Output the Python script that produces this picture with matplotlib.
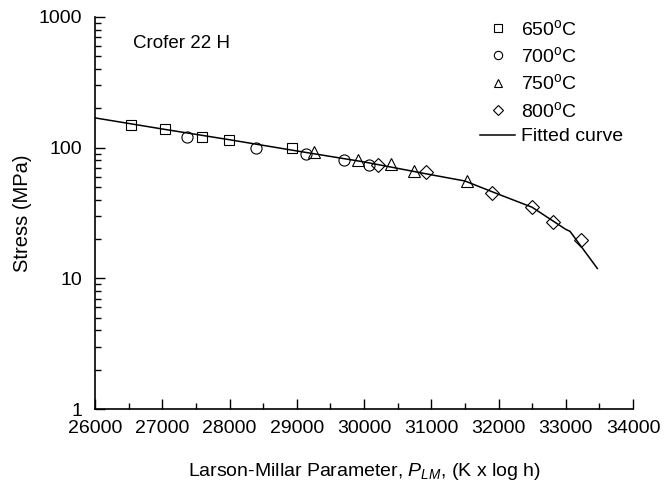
import matplotlib
matplotlib.use("Agg")
import matplotlib.pyplot as plt
from matplotlib.ticker import LogLocator, NullFormatter, FixedLocator, MultipleLocator

plt.rcParams['font.family'] = ['Liberation Sans', 'DejaVu Sans']
plt.rcParams['mathtext.fontset'] = 'custom'
plt.rcParams['mathtext.rm'] = 'Liberation Sans'
plt.rcParams['mathtext.it'] = 'Liberation Sans:italic'

# Data (Larson-Miller parameter, stress MPa)
p650 = [26531, 27036, 27591, 27988, 28925]
s650 = [150, 140, 120, 114, 100]
p700 = [27368, 28399, 29138, 29703, 30074]
s700 = [120, 100, 90, 80, 73.5]
p750 = [29252, 29911, 30406, 30748, 31527]
s750 = [92, 80.4, 74.9, 66, 56]
p800 = [30213, 30917, 31908, 32498, 32815, 33222]
s800 = [74, 65, 45, 35, 26.8, 19.8]
fit_p = [26000, 27000, 28000, 29000, 30000, 31000, 31500, 32000, 32500, 33000, 33063, 33470]
fit_s = [169, 139, 115, 94.4, 77.8, 62, 55.6, 44, 35, 23.7, 22.9, 11.9]

fig = plt.figure(figsize=(6.71, 4.83), dpi=100)
ax = fig.add_axes([95/671, 74/483, 538/671, 392/483])

mk = dict(linestyle='none', markerfacecolor='none', markeredgecolor='black', markeredgewidth=0.8)
ax.plot(p650, s650, marker='s', markersize=7.5, label='650$^{\\rm o}$C', **mk)
ax.plot(p700, s700, marker='o', markersize=8, label='700$^{\\rm o}$C', **mk)
ax.plot(p750, s750, marker='^', markersize=8.5, label='750$^{\\rm o}$C', **mk)
ax.plot(p800, s800, marker='D', markersize=7, label='800$^{\\rm o}$C', **mk)
ax.plot(fit_p, fit_s, color='black', linewidth=1.1, label='Fitted curve')

ax.set_yscale('log')
ax.set_xlim(26000, 34000)
ax.set_ylim(1, 1000)
ax.xaxis.set_major_locator(MultipleLocator(1000))
ax.xaxis.set_minor_locator(MultipleLocator(500))
ax.yaxis.set_major_locator(FixedLocator([1, 10, 100, 1000]))
ax.yaxis.set_minor_locator(LogLocator(base=10, subs=range(2, 10)))
ax.yaxis.set_minor_formatter(NullFormatter())
ax.set_yticklabels(['1', '10', '100', '1000'])

for s in ['top', 'right']:
    ax.spines[s].set_visible(False)
for s in ['left', 'bottom']:
    ax.spines[s].set_linewidth(1.2)

FS = 14
ax.tick_params(which='both', direction='in', labelsize=FS, width=1.0)
ax.tick_params(which='major', length=7)
ax.tick_params(which='minor', length=4)
ax.tick_params(axis='x', pad=8)
ax.tick_params(axis='y', pad=9)

ax.set_xlabel('Larson-Millar Parameter, $P_{LM}$, (K x log h)', fontsize=FS, labelpad=17)
ax.set_ylabel('Stress (MPa)', fontsize=FS + 0.5, labelpad=5)

ax.text(0.071, 0.955, 'Crofer 22 H', transform=ax.transAxes, fontsize=13.5, va='top', ha='left')

leg = ax.legend(loc='upper left', bbox_to_anchor=(480/671, 464/483),
                bbox_transform=fig.transFigure, frameon=False, fontsize=FS,
                borderpad=0, borderaxespad=0,
                markerscale=0.75, handlelength=1.8, handletextpad=0.3, labelspacing=0.37)

fig.savefig('out.png', dpi=100)
